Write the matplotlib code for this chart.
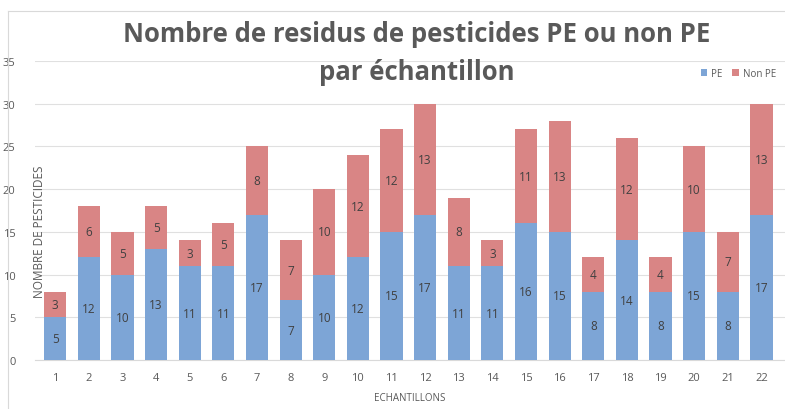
import matplotlib
matplotlib.use("Agg")
import matplotlib.pyplot as plt
from matplotlib.lines import Line2D
import numpy as np

samples = [str(i) for i in range(1, 23)]
pe = [5, 12, 10, 13, 11, 11, 17, 7, 10, 12, 15, 17, 11, 11, 16, 15, 8, 14, 8, 15, 8, 17]
non_pe = [3, 6, 5, 5, 3, 5, 8, 7, 10, 12, 12, 13, 8, 3, 11, 13, 4, 12, 4, 10, 7, 13]
yticks = [0, 5, 10, 15, 20, 25, 30, 35]

plt.rcParams['font.family'] = ['Open Sans', 'DejaVu Sans']
blue = '#7da5d6'
red = '#d98585'
grey = '#595959'

fig = plt.figure(figsize=(7.85, 4.10), dpi=100)
# chart frame
fig.add_artist(Line2D([8/785, 1], [1-12/410, 1-12/410], color='#d9d9d9', linewidth=0.8))
fig.add_artist(Line2D([8/785, 8/785], [0, 1-12/410], color='#d9d9d9', linewidth=0.8))

ax = fig.add_axes([35/785, 1-361/410, 750/785, (361-62)/410])
x = np.arange(1, len(samples)+1)
w = 0.66
ax.bar(x, pe, w, color=blue, label='PE', zorder=3)
ax.bar(x, non_pe, w, bottom=pe, color=red, label='Non PE', zorder=3)
for xi, a, b in zip(x, pe, non_pe):
    ax.text(xi, a/2, str(a), ha='center', va='center', fontsize=8.5, color='#404040', zorder=4)
    ax.text(xi, a + b/2, str(b), ha='center', va='center', fontsize=8.5, color='#404040', zorder=4)

ax.set_xlim(0.4, 22.7)
ax.set_ylim(0, 35)
ax.set_yticks(yticks)
ax.set_xticks(x)
ax.set_xticklabels(samples)
ax.tick_params(axis='both', length=0, labelsize=8, colors=grey)
ax.tick_params(axis='y', pad=14)
ax.tick_params(axis='x', pad=9)
ax.yaxis.grid(True, color='#e0e0e0', linewidth=0.8, zorder=0)
for s in ['top', 'right', 'left']:
    ax.spines[s].set_visible(False)
ax.spines['bottom'].set_color('#d9d9d9')
ax.set_xlabel('ECHANTILLONS', fontsize=7, color=grey, labelpad=6)
ax.text(0.52, 15.1, 'NOMBRE DE PESTICIDES', rotation=90, ha='center', va='center',
        fontsize=8.5, color=grey, zorder=5)

fig.text(0.531, 0.915, 'Nombre de residus de pesticides PE ou non PE', ha='center', va='center',
         fontsize=18.5, fontweight='bold', color=grey)
fig.text(0.531, 0.824, 'par échantillon', ha='center', va='center',
         fontsize=18.5, fontweight='bold', color=grey)
leg = ax.legend(loc='upper right', bbox_to_anchor=(1.0, 1.005), ncol=2, frameon=False,
                fontsize=7, handlelength=0.7, handleheight=0.7, columnspacing=1.0,
                handletextpad=0.4, labelcolor=grey)
fig.savefig('out.png', dpi=100)
